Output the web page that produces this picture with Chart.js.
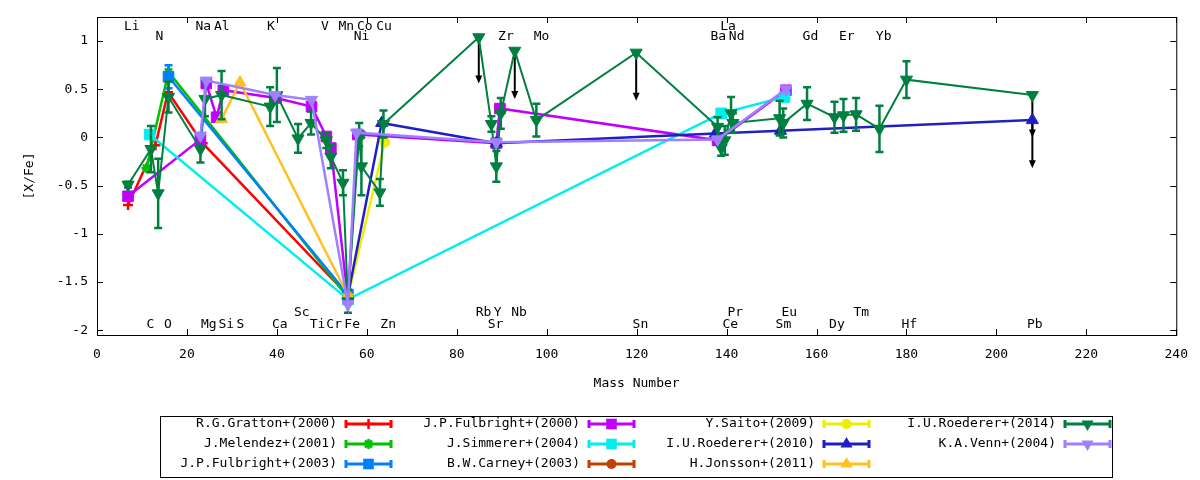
<!DOCTYPE html>
<html>
<head>
<meta charset="utf-8">
<script src="https://cdn.jsdelivr.net/npm/chart.js@4.4.1/dist/chart.umd.min.js"></script>
<style>html,body{margin:0;padding:0;background:#fff}</style>
</head>
<body>
<canvas id="c" width="1200" height="480"></canvas>
<script>
// abundance pattern [X/Fe] vs mass number, one set of arrays per paper

const grattonX = [6.9, 13.0, 15.8, 23.5, 55.8];
const grattonY = [-0.70, -0.08, 0.47, -0.06, -1.64];
const grattonE = [0, 0, 0, 0, 0];

const melendezX = [11.0, 15.9, 55.8];
const melendezY = [-0.32, 0.68, -1.66];
const melendezE = [0, 0, 0];

const fulb03X = [15.9, 55.8];
const fulb03Y = [0.63, -1.63];
const fulb03E = [0.12, 0];

const fulb00X = [6.9, 23.0, 24.3, 26.6, 28.1, 39.8, 47.7, 51.0, 52.0, 55.8, 58.0, 88.8, 89.6, 138.0, 153.2];
const fulb00Y = [-0.61, -0.02, 0.56, 0.21, 0.49, 0.41, 0.32, 0.01, -0.11, -1.68, 0.03, -0.06, 0.30, -0.03, 0.49];
const fulb00E = [0, 0, 0, 0, 0, 0, 0, 0, 0, 0, 0, 0, 0, 0, 0];

const simmererX = [11.7, 55.8, 138.8, 152.9];
const simmererY = [0.03, -1.68, 0.25, 0.42];
const simmererE = [0, 0, 0, 0];

const carneyX = [55.8];
const carneyY = [-1.66];
const carneyE = [0];

const saitoX = [55.8, 64.0];
const saitoY = [-1.65, -0.05];
const saitoE = [0, 0];

const roed10X = [55.8, 63.3, 88.8, 137.5, 152.0, 208.0];
const roed10Y = [-1.64, 0.15, -0.06, 0.04, 0.07, 0.18];
const roed10E = [0, 0, 0, 0, 0, 0];

const jonssonX = [27.7, 31.8, 55.8];
const jonssonY = [0.19, 0.57, -1.64];
const jonssonE = [0, 0, 0];

const roed14X = [6.9, 12.0, 13.6, 15.9, 23.0, 24.0, 27.7, 38.5, 40.0, 44.7, 47.6, 51.0, 52.0, 54.7, 55.8,
                 58.3, 58.8, 62.9, 63.7, 84.9, 87.7, 88.8, 89.8, 92.9, 97.7, 119.9,
                 138.0, 138.8, 139.6, 141.0, 141.4, 151.8, 152.6, 157.9, 164.0, 166.0, 168.8, 174.0, 180.0, 208.0];
const roed14Y = [-0.49, -0.12, -0.58, 0.42, -0.12, 0.40, 0.44, 0.32, 0.44, -0.01, 0.15, -0.03, -0.20, -0.47, -1.70,
                 0.03, -0.30, -0.57, 0.14, 1.04, 0.14, -0.30, 0.25, 0.90, 0.18, 0.88,
                 0.11, -0.11, -0.03, 0.25, 0.15, 0.20, 0.15, 0.35, 0.21, 0.23, 0.24, 0.09, 0.60, 0.44];
const roed14E = [0.03, 0.24, 0.36, 0.16, 0.14, 0.18, 0.25, 0.20, 0.28, 0.15, 0.12, 0.08, 0.12, 0.13, 0.12,
                 0.12, 0.30, 0.14, 0.14, 0, 0.08, 0.16, 0.16, 0, 0.17, 0,
                 0.10, 0.08, 0.15, 0.17, 0.10, 0.18, 0.15, 0.17, 0.16, 0.17, 0.17, 0.24, 0.19, 0];

const vennX = [23.0, 24.3, 39.6, 47.7, 55.8, 57.7, 88.8, 138.0, 153.2];
const vennY = [0.02, 0.59, 0.44, 0.39, -1.73, 0.05, -0.05, -0.02, 0.50];
const vennE = [0, 0, 0, 0, 0, 0, 0, 0, 0];

// upper limits (arrows)
const ulX = [84.9, 92.9, 119.9, 208.0, 208.0];
const ulFrom = [1.04, 0.90, 0.88, 0.44, 0.18];
const ulTo = [0.56, 0.40, 0.38, 0.00, -0.32];

// element names, left edge (mass) and row
const elTop1 = ['Li', 'Na', 'Al', 'K', 'V', 'Mn', 'Co', 'Cu', 'La'];
const elTop1X = [6.0, 21.9, 26.0, 37.8, 49.8, 53.7, 57.8, 62.1, 138.6];
const elTop2 = ['N', 'Ni', 'Zr', 'Mo', 'Ba', 'Nd', 'Gd', 'Er', 'Yb'];
const elTop2X = [13.0, 57.1, 89.2, 97.1, 136.4, 140.5, 156.9, 165.0, 173.2];
const elBot1 = ['Sc', 'Rb', 'Y', 'Nb', 'Pr', 'Eu', 'Tm'];
const elBot1X = [43.8, 84.2, 88.2, 92.1, 140.2, 152.2, 168.2];
const elBot2 = ['C', 'O', 'Mg', 'Si', 'S', 'Ca', 'Ti', 'Cr', 'Fe', 'Zn', 'Sr', 'Sn', 'Ce', 'Sm', 'Dy', 'Hf', 'Pb'];
const elBot2X = [11.0, 14.9, 23.1, 27.0, 31.0, 38.9, 47.3, 51.0, 55.0, 63.0, 86.9, 119.1, 139.1, 150.9, 162.8, 178.9, 206.8];
const rowY = [1.155, 1.05, -1.82, -1.94];

const xTicks = [0, 20, 40, 60, 80, 100, 120, 140, 160, 180, 200, 220, 240];
const yTicks = [-2, -1.5, -1, -0.5, 0, 0.5, 1];

const names = ['R.G.Gratton+(2000)', 'J.Melendez+(2001)', 'J.P.Fulbright+(2003)', 'J.P.Fulbright+(2000)',
  'J.Simmerer+(2004)', 'B.W.Carney+(2003)', 'Y.Saito+(2009)', 'I.U.Roederer+(2010)', 'H.Jonsson+(2011)',
  'I.U.Roederer+(2014)', 'K.A.Venn+(2004)'];
const colors = ['#ff0000', '#00c000', '#0080ff', '#c000ff', '#00eeee', '#c04000', '#eeee00', '#2020c0', '#ffc020', '#008040', '#a080ff'];
const styles = ['cross', 'star', 'rect', 'rect', 'rect', 'circle', 'circle', 'triangle', 'triangle', 'triangle', 'triangle'];
const rots = [0, 0, 0, 0, 0, 0, 0, 0, 0, 180, 180];

const xs = [grattonX, melendezX, fulb03X, fulb00X, simmererX, carneyX, saitoX, roed10X, jonssonX, roed14X, vennX];
const ys = [grattonY, melendezY, fulb03Y, fulb00Y, simmererY, carneyY, saitoY, roed10Y, jonssonY, roed14Y, vennY];
const es = [grattonE, melendezE, fulb03E, fulb00E, simmererE, carneyE, saitoE, roed10E, jonssonE, roed14E, vennE];

const FONT = 'DejaVu Sans Mono';

function radiusFor(style) {
  if (style === 'rect') return 7.5;
  if (style === 'triangle') return 7;
  if (style === 'circle') return 5;
  return 5;
}

const datasets = names.map((n, i) => ({
  label: n,
  data: xs[i].map((x, k) => ({x: x, y: ys[i][k]})),
  err: es[i],
  showLine: true,
  borderColor: colors[i],
  backgroundColor: colors[i],
  borderWidth: i === 9 ? 2 : 2.5,
  pointStyle: styles[i],
  pointRotation: rots[i],
  pointRadius: radiusFor(styles[i]),
  pointBorderWidth: (styles[i] === 'cross' || styles[i] === 'star') ? 2.5 : 1,
  order: -i
}));

function marker(ctx, style, rot, x, y, r) {
  ctx.beginPath();
  if (style === 'rect') {
    const s = r * Math.SQRT1_2;
    ctx.rect(x - s, y - s, 2 * s, 2 * s); ctx.fill();
  } else if (style === 'circle') {
    ctx.arc(x, y, r, 0, 2 * Math.PI); ctx.fill();
  } else if (style === 'triangle') {
    let a = rot * Math.PI / 180;
    ctx.moveTo(x + Math.sin(a) * r, y - Math.cos(a) * r);
    for (let k = 1; k < 3; k++) {
      a += 2 * Math.PI / 3;
      ctx.lineTo(x + Math.sin(a) * r, y - Math.cos(a) * r);
    }
    ctx.closePath(); ctx.fill();
  } else {
    ctx.moveTo(x - r, y); ctx.lineTo(x + r, y);
    ctx.moveTo(x, y - r); ctx.lineTo(x, y + r);
    if (style === 'star') {
      const d = r * 0.707;
      ctx.moveTo(x - d, y - d); ctx.lineTo(x + d, y + d);
      ctx.moveTo(x - d, y + d); ctx.lineTo(x + d, y - d);
    }
    ctx.stroke();
  }
}

const deco = {
  id: 'deco',
  beforeDatasetsDraw(chart) {
    const {ctx, scales: {x, y}} = chart;
    ctx.save();
    ctx.strokeStyle = '#000'; ctx.fillStyle = '#000'; ctx.lineWidth = 2;
    ulX.forEach((m, i) => {
      const px = x.getPixelForValue(m);
      const y0 = y.getPixelForValue(ulFrom[i]), y1 = y.getPixelForValue(ulTo[i]);
      ctx.beginPath(); ctx.moveTo(px, y0); ctx.lineTo(px, y1 - 6); ctx.stroke();
      ctx.beginPath(); ctx.moveTo(px - 3.5, y1 - 8); ctx.lineTo(px + 3.5, y1 - 8); ctx.lineTo(px, y1); ctx.closePath(); ctx.fill();
    });
    ctx.restore();
  },
  afterDatasetDraw(chart, args) {
    const ds = chart.data.datasets[args.index];
    const {ctx, scales: {x, y}} = chart;
    ctx.save();
    ctx.strokeStyle = ds.borderColor; ctx.lineWidth = 2.5;
    ds.data.forEach((p, i) => {
      const e = ds.err[i];
      if (!e) return;
      const px = x.getPixelForValue(p.x);
      const y0 = y.getPixelForValue(p.y - e), y1 = y.getPixelForValue(p.y + e);
      ctx.beginPath();
      ctx.moveTo(px, y0); ctx.lineTo(px, y1);
      ctx.moveTo(px - 4, y0); ctx.lineTo(px + 4, y0);
      ctx.moveTo(px - 4, y1); ctx.lineTo(px + 4, y1);
      ctx.stroke();
    });
    ctx.restore();
  },
  afterDraw(chart) {
    const {ctx, chartArea: a, scales: {x, y}} = chart;
    ctx.save();
    // frame + inward ticks on all sides
    ctx.strokeStyle = '#000'; ctx.lineWidth = 1;
    ctx.strokeRect(a.left + 0.5, a.top + 0.5, a.right - a.left, a.bottom - a.top);
    ctx.beginPath();
    xTicks.forEach(v => {
      const px = Math.round(x.getPixelForValue(v)) + 0.5;
      ctx.moveTo(px, a.bottom); ctx.lineTo(px, a.bottom - 6);
      ctx.moveTo(px, a.top); ctx.lineTo(px, a.top + 6);
    });
    yTicks.forEach(v => {
      const py = Math.round(y.getPixelForValue(v)) + 0.5;
      ctx.moveTo(a.left, py); ctx.lineTo(a.left + 6, py);
      ctx.moveTo(a.right, py); ctx.lineTo(a.right - 6, py);
    });
    ctx.stroke();

    // element labels
    ctx.fillStyle = '#000';
    ctx.font = '13px ' + FONT;
    ctx.textAlign = 'left'; ctx.textBaseline = 'middle';
    [[elTop1, elTop1X], [elTop2, elTop2X], [elBot1, elBot1X], [elBot2, elBot2X]].forEach((row, r) => {
      row[0].forEach((t, k) => {
        ctx.fillText(t, x.getPixelForValue(row[1][k]), y.getPixelForValue(rowY[r]));
      });
    });

    // axis titles
    ctx.textAlign = 'center';
    ctx.fillText('Mass Number', (a.left + a.right) / 2, 384);
    ctx.save();
    ctx.translate(30, (a.top + a.bottom) / 2);
    ctx.rotate(-Math.PI / 2);
    ctx.fillText('[X/Fe]', 0, 0);
    ctx.restore();

    // key box
    ctx.strokeRect(160.5, 416.5, 952, 61);
    const textRight = [337, 580, 815, 1056];
    const rowsY = [424, 444, 464];
    chart.data.datasets.forEach((ds, i) => {
      const col = Math.floor(i / 3), row = i % 3;
      const ty = rowsY[row];
      ctx.fillStyle = '#000'; ctx.textAlign = 'right';
      ctx.fillText(ds.label, textRight[col], ty);
      const sx = textRight[col] + 9, ex = sx + 45;
      ctx.strokeStyle = ds.borderColor; ctx.fillStyle = ds.borderColor; ctx.lineWidth = 3;
      ctx.beginPath();
      ctx.moveTo(sx, ty); ctx.lineTo(ex, ty);
      ctx.moveTo(sx, ty - 4); ctx.lineTo(sx, ty + 4);
      ctx.moveTo(ex, ty - 4); ctx.lineTo(ex, ty + 4);
      ctx.stroke();
      ctx.lineWidth = 2.5;
      marker(ctx, ds.pointStyle, ds.pointRotation, (sx + ex) / 2, ty, ds.pointRadius);
    });
    ctx.restore();
  }
};

new Chart(document.getElementById('c'), {
  type: 'scatter',
  data: {datasets: datasets},
  options: {
    responsive: false,
    animation: false,
    devicePixelRatio: 1,
    layout: {padding: {top: 17, right: 23, left: 0, bottom: 0}},
    plugins: {legend: {display: false}, tooltip: {enabled: false}},
    scales: {
      x: {
        type: 'linear', min: 0, max: 240,
        ticks: {stepSize: 20, padding: 12, color: '#000', font: {family: FONT, size: 13}},
        grid: {display: false, drawTicks: false},
        border: {display: false},
        afterFit: s => { s.height = 145; }
      },
      y: {
        type: 'linear', min: -2.05, max: 1.25,
        ticks: {stepSize: 0.5, includeBounds: false, padding: 9, color: '#000',
                font: {family: FONT, size: 13}, callback: v => String(v)},
        grid: {display: false, drawTicks: false},
        border: {display: false},
        afterFit: s => { s.width = 97; }
      }
    }
  },
  plugins: [deco]
});
</script>
</body>
</html>
